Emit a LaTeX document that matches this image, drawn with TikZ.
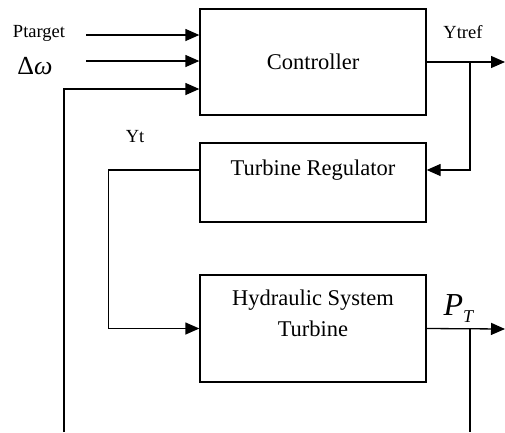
\documentclass[tikz,border=0pt]{standalone}
\usepackage{fontspec}
\setmainfont{Liberation Serif}
\usetikzlibrary{arrows.meta}
\begin{document}
\begin{tikzpicture}[x=1pt,y=-1pt,
  box/.style={draw, line width=1.3pt, inner sep=0pt, minimum width=226pt},
  wire/.style={line width=1.3pt},
  arr/.style={wire, -{Triangle[length=14pt,width=12pt]}},
  big/.style={font=\fontsize{22.5}{26}\selectfont, inner sep=0pt},
  small/.style={font=\fontsize{18.5}{21}\selectfont, inner sep=0pt}]
\useasboundingbox (0,0) rectangle (505,432);
% blocks
\node[box, big, minimum height=106pt] (ctrl) at (313,62) {Controller};
\node[box, minimum height=79pt] (tr) at (313,182.5) {};
\node[big] (trtext) at (313,170) {Turbine Regulator};
\node[box, minimum height=107pt] (hyd) at (313,328.5) {};
\node[big] (hydtext1) at (313,300) {Hydraulic System};
\node[big] (hydtext2) at (313,329) {Turbine};
% labels
\node[small] (lp) at (39,33) {Ptarget};
\node[inner sep=0pt, font=\fontsize{26}{30}\selectfont] (lw) at (35,66) {Δ\textit{ω}};
\node[small] (lytref) at (463,32) {Ytref};
\node[small] (lyt) at (135,137) {Yt};
\node[inner sep=0pt, font=\fontsize{32}{36}\selectfont] (lpt) at (459,309)
  {\textit{P}\kern0pt\raisebox{-7pt}{\fontsize{18}{18}\selectfont\textit{T}}};
% inputs
\coordinate (in1) at (86,35);
\coordinate (in2) at (86,61);
\coordinate (fb) at (64,432);
\draw[arr] (in1) -- (in1 -| ctrl.west);
\draw[arr] (in2) -- (in2 -| ctrl.west);
\draw[arr] (fb) |- ([yshift=-27pt]ctrl.west);
% controller output
\coordinate (o1) at (505,62);
\coordinate (j1) at (470,62);
\draw[arr] (ctrl.east) -- (o1);
\draw[arr] (j1) |- ([yshift=12.5pt]tr.east);
% regulator to hydraulic
\draw[arr] ([yshift=12.5pt]tr.west) -- ++(-91,0) |- (hyd.west);
% hydraulic output
\coordinate (o2) at (505,329);
\coordinate (j2) at (470,329);
\coordinate (fb2) at (470,432);
\draw[arr] (hyd.east) -- (o2);
\draw[wire] (j2) -- (fb2);
\end{tikzpicture}
\end{document}
